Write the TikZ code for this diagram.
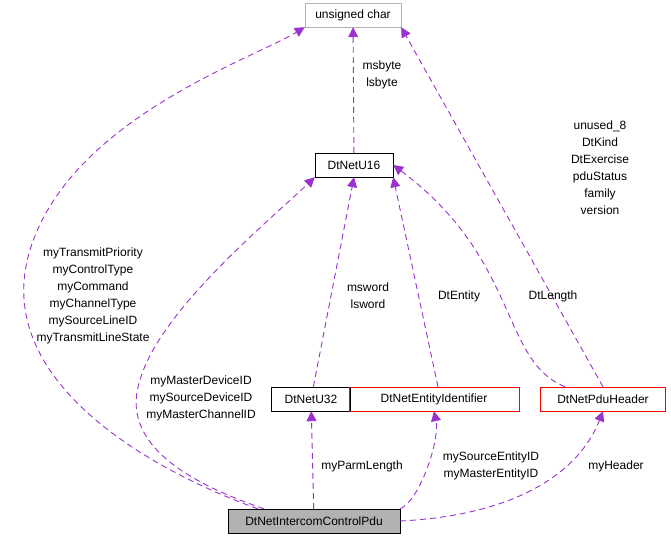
\documentclass[tikz,border=0pt]{standalone}
\usepackage{fontspec}
\setmainfont{Liberation Sans}
\usetikzlibrary{arrows.meta}
\definecolor{edgecol}{HTML}{9A32CD}
\begin{document}
\begin{tikzpicture}[x=1pt,y=-1pt,
  cls/.style={draw,minimum height=24pt,inner xsep=5pt,font=\fontsize{12}{14}\selectfont},
  redcls/.style={cls,draw=red},
  edge/.style={line width=0.9pt,dash pattern=on 6pt off 4pt,draw=edgecol,-{Triangle[length=10pt,width=10pt,fill=edgecol]}},
  lbl/.style={align=center,font=\fontsize{12}{17}\selectfont,inner sep=0pt}]
\useasboundingbox (0,0) rectangle (671,544);
\node[cls,draw=gray!60,minimum width=96pt] (uchar) at (353,15) {unsigned char};
\node[cls,minimum width=78pt] (u16) at (354,165) {DtNetU16};
\node[cls,minimum width=79pt] (u32) at (311,399) {DtNetU32};
\node[redcls,minimum width=170pt] (eid) at (434,399) {DtNetEntityIdentifier};
\node[redcls,minimum width=125pt] (hdr) at (603,399) {DtNetPduHeader};
\node[cls,fill=gray!60,minimum width=172pt] (pdu) at (314,521) {DtNetIntercomControlPdu};
% edges
\draw[edge] (u16) -- (uchar);
\draw[edge] (pdu.north west) ++(30,0) .. controls (150,470) and (-10,380) .. (30,250)
  .. controls (70,120) and (250,60) .. (uchar.south west);
\draw[edge] (pdu.north) ++(-50,0) .. controls (180,480) and (120,440) .. (140,380)
  .. controls (160,310) and (270,220) .. (u16.south west);
\draw[edge] (u32) -- (u16.south);
\draw[edge] (eid.north) ++(4,0) -- (u16.south east);
\draw[edge] (hdr.north) ++(-38,0) .. controls (500,360) and (520,260) .. (u16.east);
\draw[edge] (hdr.north) -- (uchar.south east);
\draw[edge] (pdu) -- (u32);
\draw[edge] (pdu.north east) .. controls (420,500) and (440,440) .. (eid.south);
\draw[edge] (pdu.east) .. controls (520,515) and (580,470) .. (hdr.south);
% labels
\node[lbl] (l1) at (93,296) {myTransmitPriority\\myControlType\\myCommand\\myChannelType\\mySourceLineID\\myTransmitLineState};
\node[lbl] (l2) at (201,398) {myMasterDeviceID\\mySourceDeviceID\\myMasterChannelID};
\node[lbl] (l3) at (382,75) {msbyte\\lsbyte};
\node[lbl] (l4) at (368,296) {msword\\lsword};
\node[lbl] (l5) at (459,296) {DtEntity};
\node[lbl] (l6) at (553,296) {DtLength};
\node[lbl] (l7) at (600,168) {unused\_8\\DtKind\\DtExercise\\pduStatus\\family\\version};
\node[lbl] (l8) at (362,466) {myParmLength};
\node[lbl] (l9) at (491,466) {mySourceEntityID\\myMasterEntityID};
\node[lbl] (l10) at (616,466) {myHeader};
\end{tikzpicture}
\end{document}
